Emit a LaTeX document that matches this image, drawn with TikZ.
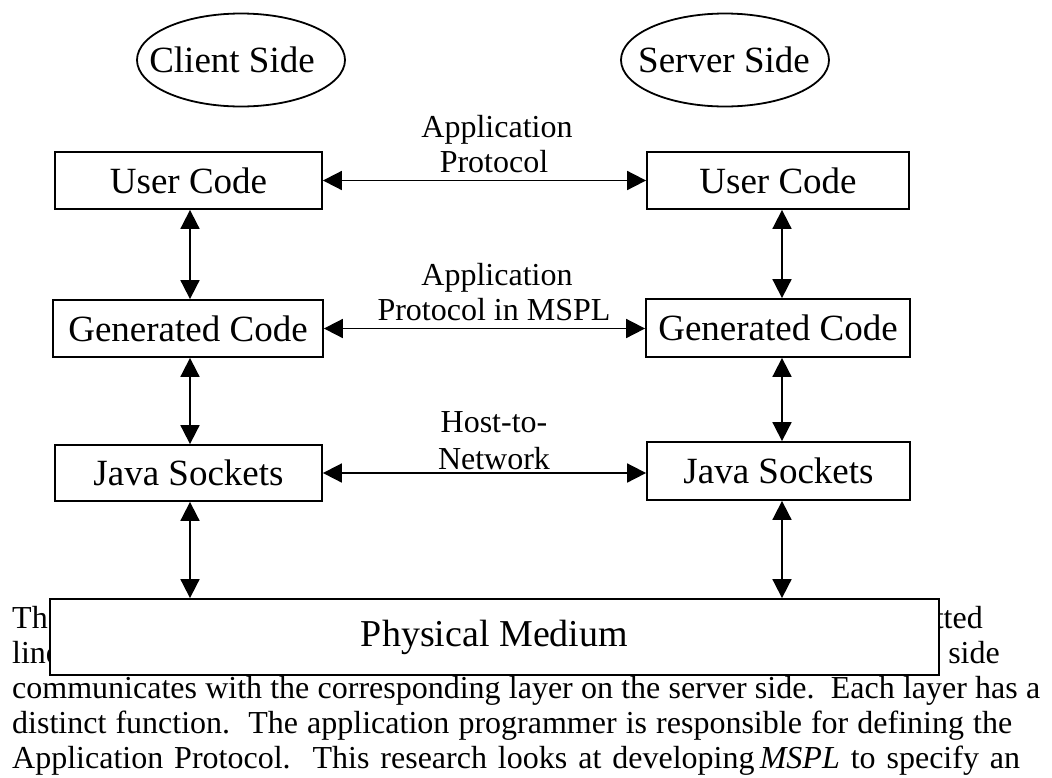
\documentclass[tikz,border=0pt]{standalone}
\usepackage{fontspec}
\setmainfont{Liberation Serif}
\usetikzlibrary{arrows.meta,shapes.geometric}
\tikzset{
  box/.style={draw=black, line width=1.8pt, fill=white, inner sep=0pt, font=\fontsize{37}{42}\selectfont},
  oval/.style={ellipse, draw=black, line width=1.8pt, inner sep=0pt, minimum width=208pt, minimum height=93pt},
  ovaltext/.style={inner sep=0pt, font=\fontsize{37}{42}\selectfont},
  lbl/.style={inner sep=0pt, anchor=base, font=\fontsize{32}{35}\selectfont},
  para/.style={inner sep=0pt, font=\fontsize{32}{35}\selectfont},
  conn/.style={line width=1.8pt, {Triangle[length=19pt,width=19pt]}-{Triangle[length=19pt,width=19pt]}}
}
\begin{document}
\begin{tikzpicture}[x=1pt,y=-1pt]
\useasboundingbox (0,0) rectangle (1052,777);
% paragraph text (partly hidden by the Physical Medium box)
\node[para, anchor=base west] (p1a) at (12,628) {The};
\node[para, anchor=base east] (p1b) at (983,628) {tted};
\node[para, anchor=base west] (p2a) at (12,663) {line};
\node[para, anchor=base east] (p2b) at (1000,663) {side};
\node[para, anchor=base west] (p3) at (12,698) {\makebox[1028pt][s]{communicates with the corresponding layer on the server side.\ \ Each layer has a}};
\node[para, anchor=base west] (p4) at (12,733) {\makebox[1000pt][s]{distinct function.\ \ The application programmer is responsible for defining the}};
\node[para, anchor=base west] (p5) at (12,768) {\makebox[1008pt][s]{Application Protocol.\ \ This research looks at developing\,\textit{MSPL} to specify an}};

% ellipses
\node[oval] (cs) at (241,60) {};
\node[ovaltext] (cst) at (232,60) {Client Side};
\node[oval] (ss) at (725,60) {};
\node[ovaltext] (sst) at (724,60) {Server Side};

% boxes
\node[box, minimum width=267pt, minimum height=57pt] (uc1) at (188.5,180.5) {User Code};
\node[box, minimum width=262pt, minimum height=57pt] (uc2) at (778,180.5) {User Code};
\node[box, minimum width=270pt, minimum height=57pt] (gc1) at (188,328.5) {Generated Code};
\node[box, minimum width=264pt, minimum height=58pt] (gc2) at (778,328) {Generated Code};
\node[box, minimum width=267pt, minimum height=56pt] (js1) at (188.5,473) {Java Sockets};
\node[box, minimum width=263pt, minimum height=58pt] (js2) at (778.5,471) {Java Sockets};
\node[box, minimum width=889pt, minimum height=76pt, font=\fontsize{38}{42}\selectfont] (pm) at (494.5,637) {Physical Medium};

% labels
\node[lbl] (l1a) at (497,137) {Application};
\node[lbl] (l1b) at (494,172) {Protocol};
\node[lbl] (l2a) at (497,285) {Application};
\node[lbl] (l2b) at (494,320) {Protocol in MSPL};
\node[lbl] (l3a) at (494,432) {Host-to-};
\node[lbl] (l3b) at (494,469) {Network};

% horizontal connectors
\draw[conn] (uc1.east) -- (uc2.west |- uc1.east);
\draw[conn] (gc1.east) -- (gc2.west |- gc1.east);
\draw[conn] (js1.east) -- (js2.west |- js1.east);

% vertical connectors
\draw[conn] (uc1.south -| 190,0) -- (gc1.north -| 190,0);
\draw[conn] (gc1.south -| 190,0) -- (js1.north -| 190,0);
\draw[conn] (js1.south -| 190,0) -- (pm.north -| 190,0);
\draw[conn] (uc2.south -| 782,0) -- (gc2.north -| 782,0);
\draw[conn] (gc2.south -| 782,0) -- (js2.north -| 782,0);
\draw[conn] (js2.south -| 782,0) -- (pm.north -| 782,0);
\end{tikzpicture}
\end{document}
